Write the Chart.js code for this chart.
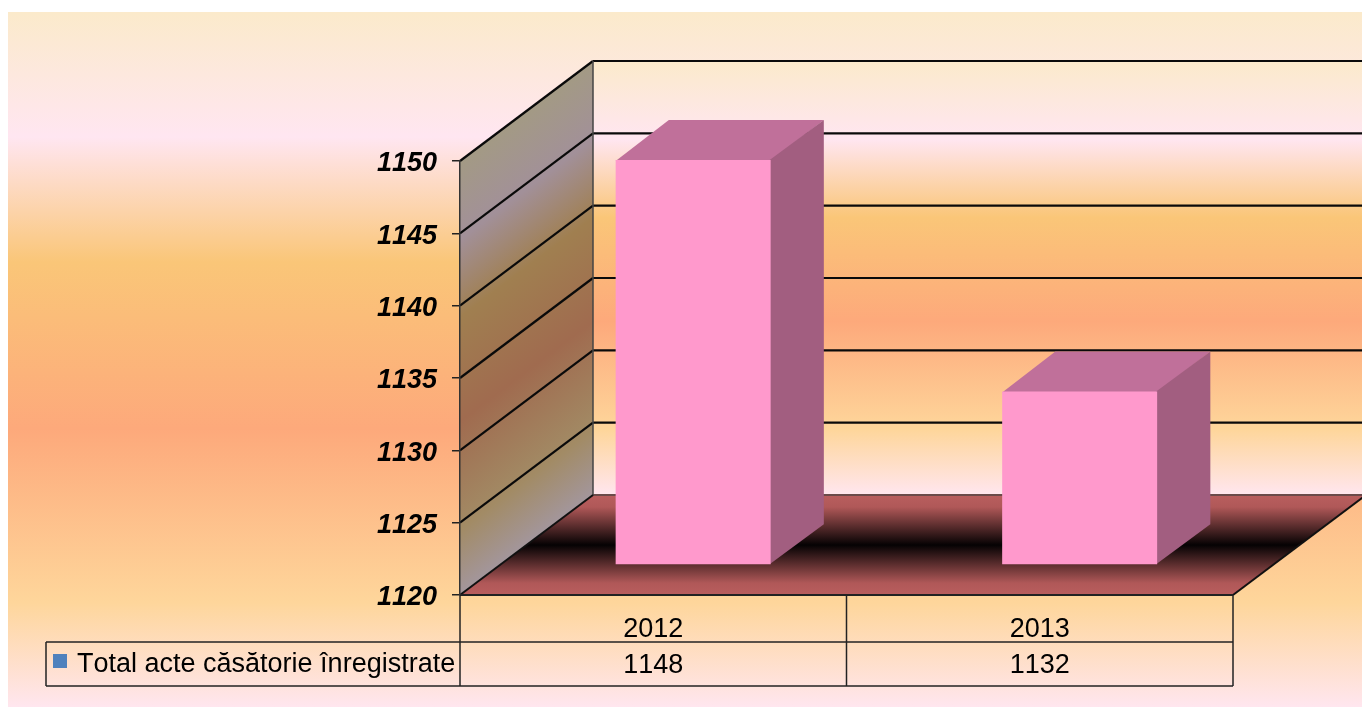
<!DOCTYPE html>
<html>
<head>
<meta charset="utf-8">
<title>Total acte căsătorie înregistrate</title>
<script src="https://cdn.jsdelivr.net/npm/chart.js@4"></script>
<style>
  html, body { margin: 0; padding: 0; background: #fff; overflow: hidden; }
  canvas { display: block; }
</style>
</head>
<body>
<canvas id="chart" width="1362" height="707"></canvas>
<script>
// Data
const categories = ['2012', '2013'];
const seriesName = 'Total acte căsătorie înregistrate';
const seriesValues = [1148, 1132];
const axisMin = 1120;
const axisMax = 1150;
const axisStep = 5;

// Fake 3D depth of the box, in pixels
const depthX = 133;
const depthY = 100;
const barStart = 0.3;
const barDepth = 0.4;

const sunsetStops = [
  [0, '#fbeacb'],
  [0.18, '#ffe6f1'],
  [0.36, '#fac678'],
  [0.6, '#fda97b'],
  [0.85, '#fed69b'],
  [1, '#ffe6ef']
];
const sideStops = [
  [0, '#a39a84'],
  [0.18, '#a29099'],
  [0.36, '#a07f50'],
  [0.6, '#a06b4f'],
  [0.85, '#a28b65'],
  [1, '#a3969c']
];

function verticalGradient(ctx, top, bottom, stops) {
  const g = ctx.createLinearGradient(0, top, 0, bottom);
  stops.forEach(s => g.addColorStop(s[0], s[1]));
  return g;
}

function polygon(ctx, points, fill) {
  ctx.beginPath();
  points.forEach((p, i) => i ? ctx.lineTo(p[0], p[1]) : ctx.moveTo(p[0], p[1]));
  ctx.closePath();
  ctx.fillStyle = fill;
  ctx.fill();
}

function line(ctx, x1, y1, x2, y2, color, width) {
  ctx.beginPath();
  ctx.moveTo(x1, y1);
  ctx.lineTo(x2, y2);
  ctx.strokeStyle = color;
  ctx.lineWidth = width;
  ctx.stroke();
}

const box3d = {
  id: 'box3d',
  // page, walls and floor
  beforeDraw(chart) {
    const { ctx, chartArea: a, scales } = chart;
    ctx.fontKerning = 'none';
    ctx.save();
    ctx.fillStyle = verticalGradient(ctx, 12, 707, sunsetStops);
    ctx.fillRect(8, 12, 1354, 695);

    // back wall
    ctx.fillStyle = verticalGradient(ctx, a.top - depthY, a.bottom - depthY, sunsetStops);
    ctx.fillRect(a.left + depthX, a.top - depthY, a.right - a.left, a.bottom - a.top);

    // floor
    const floor = ctx.createLinearGradient(0, a.bottom - depthY, 0, a.bottom);
    floor.addColorStop(0, '#b95e5e');
    floor.addColorStop(0.12, '#b05858');
    floor.addColorStop(0.5, '#050203');
    floor.addColorStop(0.88, '#b05858');
    floor.addColorStop(1, '#b95e5e');
    polygon(ctx, [[a.left, a.bottom], [a.right, a.bottom], [a.right + depthX, a.bottom - depthY], [a.left + depthX, a.bottom - depthY]], floor);

    // side wall, sheared so the gradient follows the grid lines
    ctx.save();
    ctx.transform(1, -depthY / depthX, 0, 1, 0, a.left * depthY / depthX);
    ctx.fillStyle = verticalGradient(ctx, a.top, a.bottom, sideStops);
    ctx.fillRect(a.left, a.top, depthX, a.bottom - a.top);
    ctx.restore();

    // grid lines on both walls
    scales.y.ticks.forEach(t => {
      const y = scales.y.getPixelForValue(t.value);
      if (t.value > axisMin) {
        line(ctx, a.left, y, a.left + depthX, y - depthY, '#0a0a0a', 2.2);
        line(ctx, a.left + depthX, y - depthY, a.right + depthX, y - depthY, '#0a0a0a', 2.2);
      }
    });
    line(ctx, a.left + depthX, a.bottom - depthY, a.right + depthX, a.bottom - depthY, '#6b4a4a', 2);
    line(ctx, a.left + depthX, a.top - depthY, a.left + depthX, a.bottom - depthY, '#444', 1.5);
    line(ctx, a.left, a.bottom, a.left + depthX, a.bottom - depthY, '#111', 2);
    line(ctx, a.right, a.bottom, a.right + depthX, a.bottom - depthY, '#111', 2);
    line(ctx, a.left, a.bottom, a.right, a.bottom, '#222', 2);
    ctx.restore();
  },
  // top and side of each bar, then move the front faces back into the box
  beforeDatasetsDraw(chart) {
    const { ctx } = chart;
    const ox = depthX * barStart, oy = depthY * barStart;
    const dx = depthX * barDepth, dy = depthY * barDepth;
    ctx.save();
    chart.getDatasetMeta(0).data.forEach(bar => {
      const right = bar.x + bar.width / 2 + ox;
      const left = bar.x - bar.width / 2 + ox;
      const top = bar.y - oy;
      const base = bar.base - oy;
      // both faces run a pixel under the front face so no seam shows
      polygon(ctx, [[left, top + 1], [right, top + 1], [right + dx, top - dy], [left + dx, top - dy]], '#c0709a');
      polygon(ctx, [[right - 1, top], [right + dx, top - dy], [right + dx, base - dy], [right - 1, base]], '#a25e80');
    });
    ctx.translate(ox, -oy);
  },
  afterDatasetsDraw(chart) {
    chart.ctx.restore();
  },
  // data table under the axis
  afterDraw(chart) {
    const { ctx, chartArea: a, scales } = chart;
    const rowTop = 642, rowBottom = 686, tableLeft = 46;
    ctx.save();
    line(ctx, tableLeft, rowTop, a.right, rowTop, '#222', 1.5);
    line(ctx, tableLeft, rowBottom, a.right, rowBottom, '#222', 1.5);
    line(ctx, tableLeft, rowTop, tableLeft, rowBottom, '#222', 1.5);
    const edges = [a.left, (scales.x.getPixelForValue(0) + scales.x.getPixelForValue(1)) / 2, a.right];
    edges.forEach(x => line(ctx, x, a.bottom, x, rowBottom, '#222', 1.5));

    ctx.fillStyle = '#4f81bd';
    ctx.fillRect(53, 654, 14, 14);

    ctx.fillStyle = '#000';
    ctx.font = '27px "Liberation Sans"';
    ctx.textBaseline = 'middle';
    ctx.textAlign = 'left';
    ctx.fillText(seriesName, 77, 665);
    ctx.textAlign = 'center';
    seriesValues.forEach((v, i) => ctx.fillText(String(v), scales.x.getPixelForValue(i), 666));
    ctx.restore();
  }
};

const chart = new Chart(document.getElementById('chart').getContext('2d'), {
  type: 'bar',
  data: {
    labels: categories,
    datasets: [{
      label: seriesName,
      data: seriesValues,
      base: axisMin,
      backgroundColor: '#ff99cc',
      borderWidth: 0,
      barPercentage: 0.401,
      categoryPercentage: 1,
      clip: false
    }]
  },
  options: {
    responsive: false,
    animation: false,
    layout: { padding: { left: 8, top: 161, right: 129, bottom: 0 } },
    plugins: { legend: { display: false }, tooltip: { enabled: false } },
    scales: {
      x: {
        afterFit(scale) { scale.height = 112; },
        grid: { display: false },
        border: { display: false },
        ticks: {
          padding: 10,
          maxRotation: 0,
          autoSkip: false,
          color: '#000',
          font: { family: '"Liberation Sans"', size: 27 }
        }
      },
      y: {
        min: axisMin,
        max: axisMax,
        afterFit(scale) { scale.width = 452; },
        grid: { drawOnChartArea: false, tickLength: 8, color: '#222', lineWidth: 1.5 },
        border: { color: '#333', width: 1.5 },
        ticks: {
          stepSize: axisStep,
          padding: 15,
          labelOffset: 3,
          format: { useGrouping: false },
          color: '#000',
          font: { family: '"Liberation Sans"', size: 27, style: 'italic', weight: 'bold' }
        }
      }
    }
  },
  plugins: [box3d]
});
</script>
</body>
</html>
